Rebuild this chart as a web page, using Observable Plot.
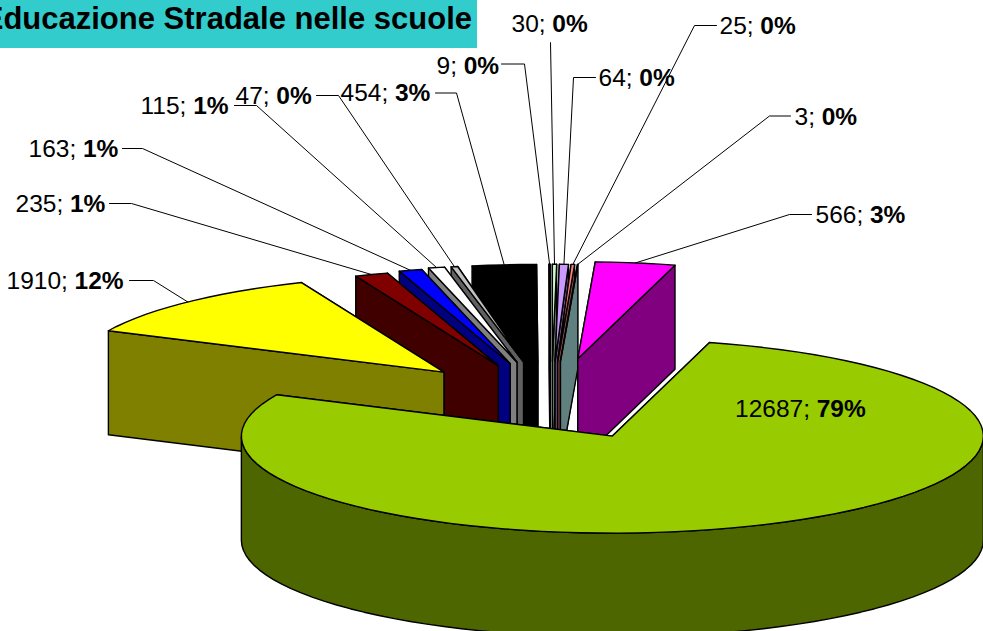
<!DOCTYPE html>
<html><head><meta charset="utf-8">
<script src="https://cdn.jsdelivr.net/npm/d3@7"></script>
<script src="https://cdn.jsdelivr.net/npm/@observablehq/plot@0.6"></script>
<style>
html,body{margin:0;padding:0;background:#fff;overflow:hidden}
#wrap{position:relative;width:983px;height:631px}
#title{position:absolute;left:0;top:0;width:477px;height:48px;background:#33cccc;overflow:hidden}
#title span{position:absolute;right:5px;top:1px;white-space:nowrap;font:bold 31px "Liberation Sans",Arial,sans-serif;color:#000;line-height:36px}
svg{display:block}
</style></head><body>
<div id="wrap"></div>
<script>
const titleText = "Educazione Stradale nelle scuole";
// clockwise from twelve o'clock
const values   = [30, 64, 25, 3, 566, 12687, 1910, 235, 163, 115, 47, 454, 9];
const percents = ["0%","0%","0%","0%","3%","79%","12%","1%","1%","1%","0%","3%","0%"];
const topColors  = ["#ccffcc","#cc99ff","#ff8080","#ccffff","#ff00ff","#99cc00","#ffff00","#800000","#0000ff","#ffffff","#c0c0c0","#000000","#ffffff"];
const sideColors = ["#668066","#664d80","#804040","#608080","#800080","#4d6600","#808000","#400000","#000080","#808080","#606060","#000000","#808080"];
// pie layout
const cx = 549, cy = 400, rx = 371, ry = 97, explode = 150, depth = 104;
// small hand-fitted offsets of the exploded slices
const nudgeX = [2, 2, 2, 4, 5, 0, -2, 0, 1, 0, 2, 2, 1];
const nudgeY = [0, 0, 0, 0, -3, 0, 0, 2, 1, 0, 0, 0, 0];
// hand-placed label layout, one per slice
const labelLeft = [511, 598, 719, 794, 815, 734.5, 6, 15, 28, 140, 235, 340, 436];
const labelY    = [24, 77.5, 25.5, 116.5, 215, 408.5, 281, 204, 149, 106, 96, 93, 65.5];
const stubStart = [550, 595, 716, 790, 811, null, 129, 109, 122, 234, 316, 435, 501];
const stubEnd   = [550, 573, 694, 769, 789, null, 153, 131, 142, 256, 338, 456, 524];
const stubY     = [42, 77, 25, 115.5, 214, null, 280, 203, 148, 105, 95, 92.5, 63.5];

const fontSize = 24.5;
const fontFamily = '"Liberation Sans", Arial, sans-serif';
const rad = d => d * Math.PI / 180;
const total = d3.sum(values);
let acc = 0;
const slices = values.map((v, i) => {
  const a0 = acc / total * 360; acc += v; const a1 = acc / total * 360;
  const mid = (a0 + a1) / 2;
  const ax = cx + explode * Math.sin(rad(mid)) + nudgeX[i];
  const ay = cy - explode * ry / rx * Math.cos(rad(mid)) + nudgeY[i];
  return {i, a0, a1, mid, ax, ay, top: topColors[i], side: sideColors[i]};
});
const rim = (s, a) => ({x: s.ax + rx * Math.sin(rad(a)), y: s.ay - ry * Math.cos(rad(a))});
const drop = p => ({x: p.x, y: p.y + depth});
const arcAngles = (a0, a1) => { const n = Math.max(1, Math.ceil((a1 - a0) / 3)); return d3.range(n + 1).map(k => a0 + (a1 - a0) * k / n); };
const closed = pts => [...pts, pts[0]];

const faces = [];
for (const s of d3.sort(slices, s => -Math.cos(rad(s.mid)))) {
  const apex = {x: s.ax, y: s.ay};
  const wall = a => { const p = rim(s, a); return closed([apex, p, drop(p), drop(apex)]); };
  const right = s.mid < 180;
  faces.push({pts: wall(right ? s.a0 : s.a1), fill: s.side});
  faces.push({pts: wall(right ? s.a1 : s.a0), fill: s.side});
  const f0 = Math.max(s.a0, 90), f1 = Math.min(s.a1, 270);
  if (f1 > f0) {
    const arc = arcAngles(f0, f1).map(a => rim(s, a));
    faces.push({pts: closed([...arc, ...arc.map(drop).reverse()]), fill: s.side});
  }
  faces.push({pts: closed([apex, ...arcAngles(s.a0, s.a1).map(a => rim(s, a))]), fill: s.top});
}

const ctx = document.createElement("canvas").getContext("2d");
ctx.font = `${fontSize}px ${fontFamily}`;
const labels = slices.map(s => {
  const lead = `${values[s.i]}; `;
  return {lead, pct: percents[s.i], x: labelLeft[s.i], y: labelY[s.i], bx: labelLeft[s.i] + ctx.measureText(lead).width};
});
const leaders = slices.filter(s => stubStart[s.i] != null).map(s => [
  {x: stubStart[s.i], y: stubY[s.i]},
  {x: stubEnd[s.i], y: stubY[s.i]},
  rim(s, s.mid)
]);

const chart = Plot.plot({
  width: 983, height: 631, margin: 0,
  x: {domain: [0, 983], range: [0, 983], axis: null},
  y: {domain: [0, 631], range: [0, 631], axis: null},
  style: {background: "transparent"},
  marks: [
    ...faces.map(f => Plot.line(f.pts, {x: "x", y: "y", fill: f.fill, stroke: "#000", strokeWidth: 1.4, strokeLinejoin: "round", curve: "linear"})),
    ...leaders.map(l => Plot.line(l, {x: "x", y: "y", stroke: "#000", strokeWidth: 1, curve: "linear"})),
    Plot.text(labels, {x: "x", y: "y", text: d => d.lead.trimEnd(), textAnchor: "start", fontSize, fontFamily, fill: "#000"}),
    Plot.text(labels, {x: "bx", y: "y", text: "pct", textAnchor: "start", fontSize, fontFamily, fontWeight: "bold", fill: "#000"})
  ]
});
const wrap = document.getElementById("wrap");
wrap.appendChild(chart);
const t = document.createElement("div"); t.id = "title";
const sp = document.createElement("span"); sp.textContent = titleText; t.appendChild(sp);
wrap.appendChild(t);
</script>
</body></html>
